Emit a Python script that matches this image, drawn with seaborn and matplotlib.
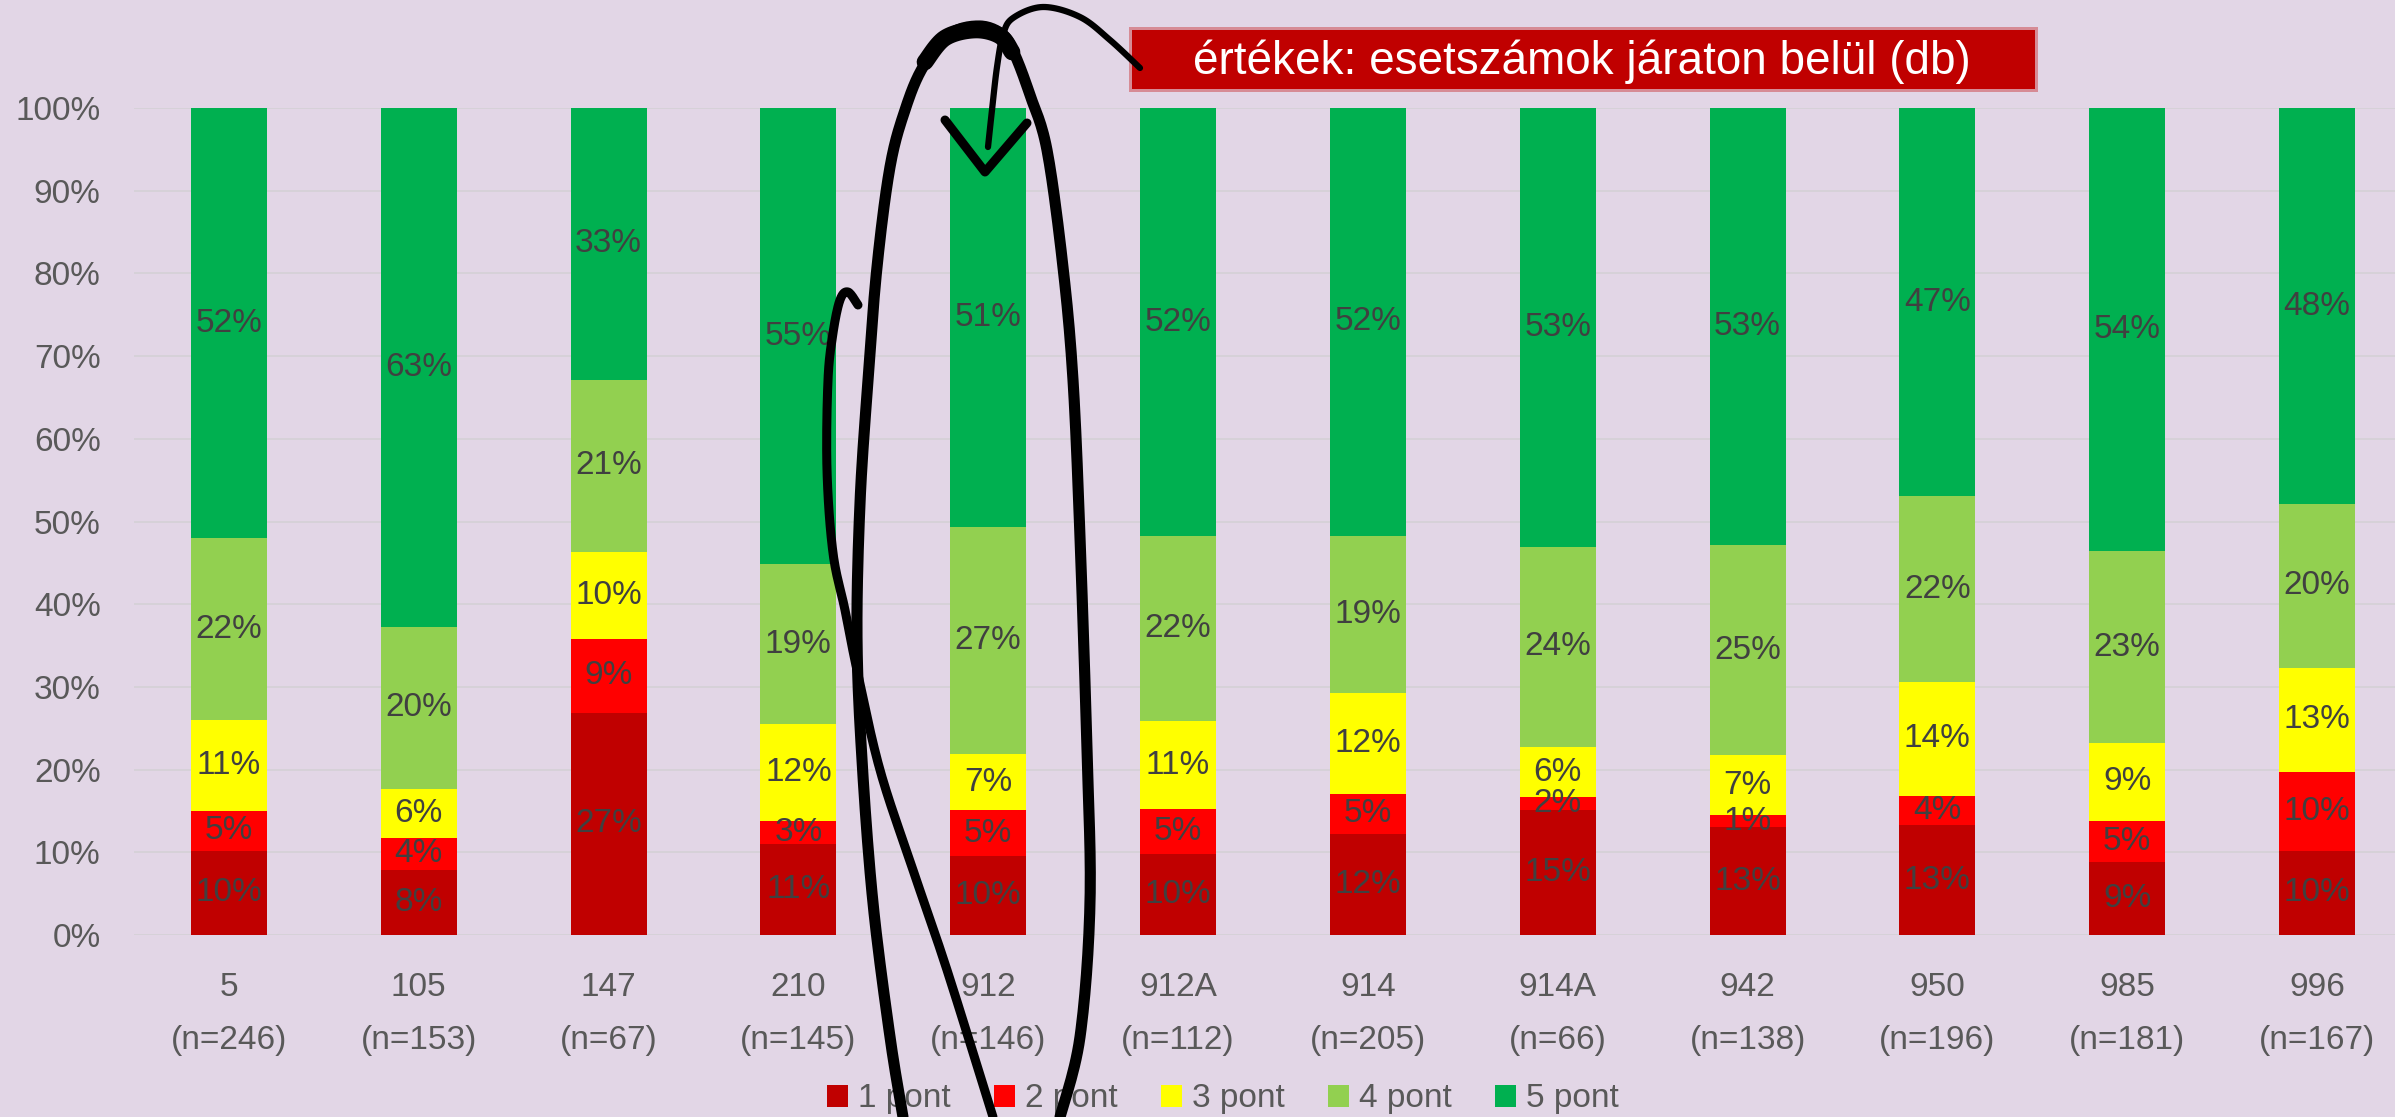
import matplotlib
matplotlib.use("Agg")
import matplotlib.pyplot as plt
import numpy as np
import pandas as pd
import seaborn as sns
from matplotlib.font_manager import FontProperties
from matplotlib.lines import Line2D
from matplotlib.patches import Patch, Rectangle

# Data: case counts per route (járat) and score
routes = ["5", "105", "147", "210", "912", "912A", "914", "914A", "942", "950", "985", "996"]
pont_1 = [25, 12, 18, 16, 14, 11, 25, 10, 18, 26, 16, 17]
pont_2 = [12, 6, 6, 4, 8, 6, 10, 1, 2, 7, 9, 16]
pont_3 = [27, 9, 7, 17, 10, 12, 25, 4, 10, 27, 17, 21]
pont_4 = [54, 30, 14, 28, 40, 25, 39, 16, 35, 44, 42, 33]
pont_5 = [128, 96, 22, 80, 74, 58, 106, 35, 73, 92, 97, 80]

series = ["1 pont", "2 pont", "3 pont", "4 pont", "5 pont"]
colors = {"1 pont": "#C00000", "2 pont": "#FF0000", "3 pont": "#FFFF00",
          "4 pont": "#92D050", "5 pont": "#00B050"}

df = pd.DataFrame({"route": routes, "1 pont": pont_1, "2 pont": pont_2,
                   "3 pont": pont_3, "4 pont": pont_4, "5 pont": pont_5})
df["n"] = df[series].sum(axis=1)
df["label"] = [f"{r}\n(n={n})" for r, n in zip(df["route"], df["n"])]
pct = df[series].div(df["n"], axis=0) * 100
cum = pct.cumsum(axis=1)

BG = "#E2D6E6"
W, H = 2395, 1117
FS = 24

sns.set_style("white")
plt.rcParams["font.family"] = ["Liberation Sans", "DejaVu Sans"]

fig = plt.figure(figsize=(W / 100, H / 100), dpi=100, facecolor=BG)
ax = fig.add_axes([134 / W, 1 - 935 / H, (2412 - 134) / W, (935 - 108) / H])
ax.set_facecolor(BG)

# stacked bars: draw cumulative totals from the top series down
for s in reversed(series):
    d = pd.DataFrame({"label": df["label"], "val": cum[s].values})
    sns.barplot(data=d, x="label", y="val", order=list(df["label"]), color=colors[s],
                saturation=1, width=0.4, errorbar=None, linewidth=0, ax=ax)

# percentage labels in the middle of each segment
for i in range(len(df)):
    for s in series:
        p = pct.loc[i, s]
        ax.text(i, cum.loc[i, s] - p / 2, f"{int(np.floor(p + 0.5))}%",
                ha="center", va="center", fontsize=FS, color="#404040")

ax.set_ylim(0, 100)
ax.set_xlim(-0.5, len(df) - 0.5)
ax.set_yticks(range(0, 101, 10))
ax.set_yticklabels([f"{v}%" for v in range(0, 101, 10)])
ax.set_xticks(range(len(df)))
ax.set_xticklabels([])

# two-line category labels (route + sample size); line pitch of about 45 px
renderer = fig.canvas.get_renderer()
_, lp_h, lp_d = renderer.get_text_width_height_descent(
    "lp", FontProperties(family="Liberation Sans", size=FS), ismath=False)
line_sp = 45.3 / (lp_h - lp_d)
for i, lab in enumerate(df["label"]):
    ax.annotate(lab, xy=(i, 0), xycoords=("data", "axes fraction"), xytext=(0, -27),
                textcoords="offset points", ha="center", va="top", fontsize=FS,
                color="#595959", linespacing=line_sp, annotation_clip=False)
ax.yaxis.grid(True, color="#D4D0D6", linewidth=1.2)
ax.set_axisbelow(True)
ax.tick_params(axis="y", length=0, pad=24, labelsize=FS, labelcolor="#595959")
ax.tick_params(axis="x", length=0)
ax.set_xlabel("")
ax.set_ylabel("")
for sp in ax.spines.values():
    sp.set_visible(False)

handles = [Patch(facecolor=colors[s], edgecolor="none", label=s) for s in series]
fig.legend(handles=handles, loc="center", bbox_to_anchor=(1223 / W, 1 - 1099 / H),
           ncol=5, frameon=False, fontsize=FS, handlelength=0.63, handleheight=0.63,
           handletextpad=0.3, columnspacing=1.3, labelcolor="#595959")


def px(x, y):
    return x / W, 1 - y / H


def smooth(pts, k=14):
    # Catmull-Rom curve through the hand-drawn stroke points
    P = np.array(pts, float)
    P = np.vstack([P[0], P, P[-1]])
    out = []
    for i in range(1, len(P) - 2):
        p0, p1, p2, p3 = P[i - 1], P[i], P[i + 1], P[i + 2]
        for t in np.linspace(0, 1, k, endpoint=False):
            out.append(0.5 * (2 * p1 + (p2 - p0) * t + (2 * p0 - 5 * p1 + 4 * p2 - p3) * t ** 2
                              + (3 * p1 - p0 - 3 * p2 + p3) * t ** 3))
    out.append(P[-2])
    return np.array(out)


# red note box with soft edge
for grow, alpha in [(3, 0.35), (0, 1.0)]:
    x0, y0 = px(1132 - grow, 89 + grow)
    x1, y1 = px(2035 + grow, 30 - grow)
    fig.add_artist(Rectangle((x0, y0), x1 - x0, y1 - y0, transform=fig.transFigure,
                             facecolor="#C00000", edgecolor="none", alpha=alpha, zorder=8))
fig.text(*px(1582, 62), "értékek: esetszámok járaton belül (db)", ha="center", va="center",
         fontsize=33, color="white", zorder=9)

# hand-drawn marking around route 912
strokes = [
    ([(903, 1117), (890, 1037), (873, 903), (862, 760), (857, 637), (860, 503), (868, 380),
      (877, 267), (890, 167), (905, 110), (923, 67), (950, 34), (980, 26), (1003, 35),
      (1015, 55), (1030, 95), (1047, 150), (1063, 267), (1073, 380), (1080, 537),
      (1087, 750), (1090, 903), (1080, 1037), (1060, 1117)], 8),
    ([(925, 62), (945, 38), (975, 30), (1000, 36), (1012, 52)], 12),
    ([(858, 305), (848, 292), (840, 300), (833, 333), (828, 380), (827, 470), (833, 553),
      (845, 610), (857, 670), (880, 770), (913, 870), (947, 970), (993, 1117)], 6.5),
    ([(1140, 68), (1110, 40), (1080, 17), (1043, 7), (1013, 18), (1003, 35), (997, 67),
      (992, 110), (988, 147)], 4.5),
    ([(945, 120), (985, 172), (1027, 123)], 6.5),
]
for pts, lw in strokes:
    c = smooth(pts) if len(pts) > 3 else np.array(pts, float)
    xs, ys = c[:, 0] / W, 1 - c[:, 1] / H
    fig.add_artist(Line2D(xs, ys, transform=fig.transFigure, color="black", linewidth=lw,
                          solid_capstyle="round", solid_joinstyle="round", zorder=10))

fig.savefig("out.png", dpi=100, facecolor=BG)
